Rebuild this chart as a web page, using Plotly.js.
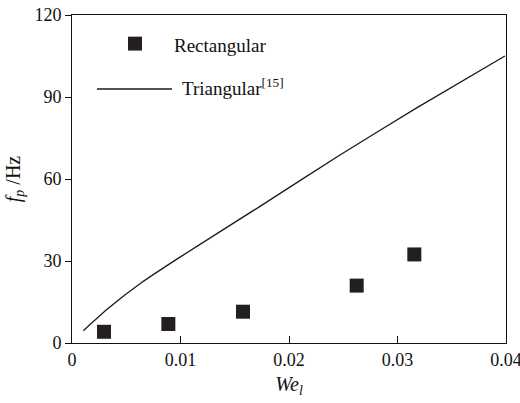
<!DOCTYPE html>
<html>
<head>
<meta charset="utf-8">
<script src="https://cdn.plot.ly/plotly-3.0.1.min.js"></script>
<style>html,body{margin:0;padding:0;background:#fff;}#chart{width:520px;height:403px;}</style>
</head>
<body>
<div id="chart"></div>
<script>
// Rectangular (measured points)
var rectWe = [0.00295, 0.00888, 0.01576, 0.02624, 0.03155];
var rectFp = [4.1, 6.95, 11.45, 21.0, 32.4];
// Triangular [15] (curve)
var triWe = [0.00104, 0.00335, 0.00642, 0.00995, 0.01733, 0.0247, 0.03177, 0.0399];
var triFp = [4.5, 12.7, 22.1, 31.4, 50.0, 68.8, 86.0, 105.0];
// Axis ticks
var xTicks = [0, 0.01, 0.02, 0.03, 0.04];
var xTickText = ['0', '0.01', '0.02', '0.03', '0.04'];
var yTicks = [0, 30, 60, 90, 120];
var yTickText = ['0', '30', '60', '90', '120'];
var legendNames = ['Rectangular', 'Triangular<sup>[15]</sup>'];

var FONT = 'Liberation Serif';
var INK = '#231f20';

var traces = [
  {x: triWe, y: triFp, mode: 'lines', type: 'scatter',
   line: {color: '#1a1a1a', width: 1.3, shape: 'spline', smoothing: 0.6}, showlegend: false, hoverinfo: 'skip'},
  {x: rectWe, y: rectFp, mode: 'markers', type: 'scatter',
   marker: {symbol: 'square', size: 14, color: INK, line: {width: 0}},
   showlegend: false, hoverinfo: 'skip'}
];

var layout = {
  width: 520, height: 403,
  margin: {l: 72, r: 14, t: 15, b: 60},
  paper_bgcolor: '#fff', plot_bgcolor: '#fff',
  font: {family: FONT, size: 18, color: '#111'},
  showlegend: false,
  xaxis: {
    range: [0, 0.04], tickmode: 'array', tickvals: xTicks, ticktext: xTickText,
    ticks: 'inside', ticklen: 7, tickwidth: 1, tickcolor: '#111',
    ticklabeloverflow: 'allow',
    showline: true, linecolor: '#111', linewidth: 1, mirror: true,
    showgrid: false, zeroline: false,
    tickfont: {family: FONT, size: 18, color: '#111'},
    title: {text: '<i>We</i><sub><i>l</i></sub>', font: {family: FONT, size: 20, color: '#111'}, standoff: 8}
  },
  yaxis: {
    range: [0, 120], tickmode: 'array', tickvals: yTicks, ticktext: yTickText,
    ticks: 'outside', ticklen: 6, tickwidth: 1, tickcolor: '#111',
    showline: true, linecolor: '#111', linewidth: 1, mirror: true,
    showgrid: false, zeroline: false,
    tickfont: {family: FONT, size: 18, color: '#111'},
    title: {text: '<i>f</i><sub><i>p</i></sub> /Hz', font: {family: FONT, size: 20, color: '#111'}, standoff: 8}
  },
  shapes: [
    {type: 'rect', xref: 'paper', yref: 'paper', x0: 0.129, x1: 0.1613, y0: 0.8915, y1: 0.934,
     fillcolor: INK, line: {width: 0}},
    {type: 'line', xref: 'paper', yref: 'paper', x0: 0.0576, x1: 0.2304, y0: 0.7744, y1: 0.7744,
     line: {color: '#1a1a1a', width: 1.3}}
  ],
  annotations: [
    {xref: 'paper', yref: 'paper', x: 0.2304, y: 0.906, xanchor: 'left', yanchor: 'middle',
     text: legendNames[0], showarrow: false, font: {family: FONT, size: 19, color: '#111'}},
    {xref: 'paper', yref: 'paper', x: 0.2488, y: 0.782, xanchor: 'left', yanchor: 'middle',
     text: legendNames[1], showarrow: false, font: {family: FONT, size: 19, color: '#111'}}
  ]
};

Plotly.newPlot('chart', traces, layout, {staticPlot: true, displayModeBar: false});
</script>
</body>
</html>
